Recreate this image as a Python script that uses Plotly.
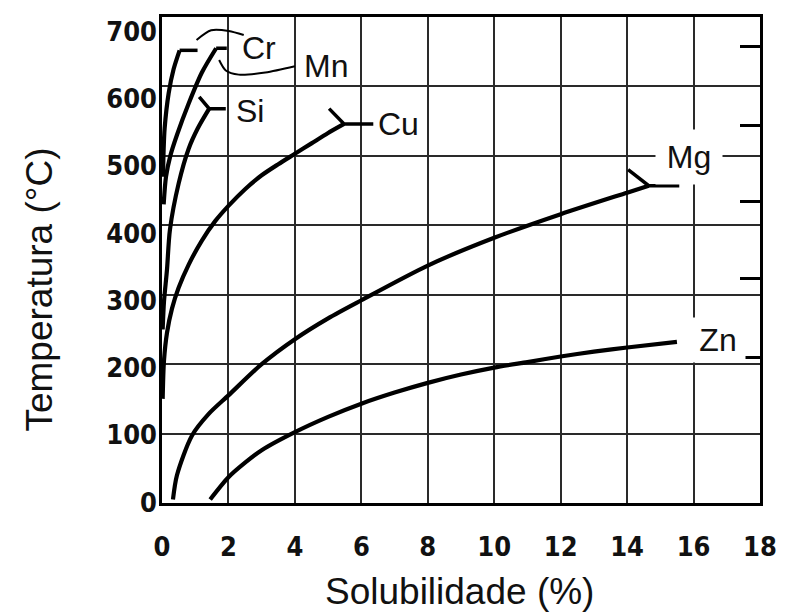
import plotly.graph_objects as go

# Solvus curves of alloying elements in aluminium: solubility (wt %) vs temperature (°C)
cr_x = [0.03, 0.05, 0.08, 0.2, 0.35, 0.53]
cr_t = [470, 510, 540, 590, 625, 652]
mn_x = [0.05, 0.12, 0.25, 0.45, 0.8, 1.2, 1.63]
mn_t = [430, 470, 500, 530, 575, 620, 655]
si_x = [0.02, 0.06, 0.15, 0.24, 0.5, 0.8, 1.07, 1.42]
si_t = [250, 290, 336, 394, 460, 510, 539, 568]
cu_x = [0.02, 0.06, 0.15, 0.3, 0.5, 0.8, 1.2, 1.6, 2.0, 2.5, 3.0, 3.5, 4.0, 4.5, 5.0, 5.48]
cu_t = [150, 205, 245, 280, 310, 343, 378, 406, 428, 452, 472, 488, 503, 518, 533, 546]
mg_x = [0.33, 0.45, 0.9, 1.4, 2.0, 3.0, 4.0, 5.0, 6.0, 8.0, 10.0, 12.0, 14.0, 14.65]
mg_t = [5, 40, 97, 128, 155, 200, 236, 266, 292, 342, 382, 416, 447, 457]
zn_x = [1.45, 2.0, 2.5, 3.0, 4.0, 5.0, 6.0, 7.0, 8.0, 9.0, 10.0, 11.0, 12.0, 13.0, 14.0, 15.5]
zn_t = [5, 37, 58, 76, 102, 124, 143, 159, 173, 185, 195, 203, 211, 218, 224, 232]

# Maximum-solubility end points: forked arm and horizontal leader towards the label
cr_stub_x, cr_stub_t = [0.53, 1.07], [652, 652]
mn_stub_x, mn_stub_t = [1.63, 1.95], [655, 655]
si_arm_x, si_arm_t = [1.12, 1.42, 1.92], [585, 568, 568]
cu_arm_x, cu_arm_t = [5.03, 5.48, 6.36], [568, 546, 546]
mg_arm_x, mg_arm_t = [14.03, 14.65, 15.57], [480, 457, 457]

# Curved leader lines for the Cr and Mn labels
cr_lead_x, cr_lead_t = [1.04, 1.48, 2.01, 2.46], [667, 681, 680, 674]
mn_lead_x, mn_lead_t = [1.72, 1.92, 2.31, 3.11, 4.0], [638, 623, 617, 620, 629]

# Element labels
lbl_text = ["Cr", "Mn", "Si", "Cu", "Mg", "Zn"]
lbl_x = [2.92, 4.95, 2.66, 7.12, 15.85, 16.75]
lbl_t = [655, 629, 564, 546, 499, 235]

# Axis ticks
x_ticks = [0, 2, 4, 6, 8, 10, 12, 14, 16, 18]
t_ticks = [0, 100, 200, 300, 400, 500, 600, 700]
# secondary (Fahrenheit) tick marks on the right frame, in °C
f_ticks_c = [657, 544, 434, 324, 210]

TICK_FONT = dict(family="DejaVu Sans Condensed, Liberation Sans, sans-serif",
                 size=27, color="#111", weight="bold")
LBL_FONT = dict(family="Liberation Sans, Arial, sans-serif", size=32, color="#111")
TITLE_FONT = dict(family="Liberation Sans, Arial, sans-serif", size=37, color="#111")

fig = go.Figure()


def curve(x, y, width=4.2, smooth=True):
    fig.add_trace(go.Scatter(
        x=x, y=y, mode="lines",
        line=dict(color="black", width=width,
                  shape="spline" if smooth else "linear", smoothing=0.8),
        hoverinfo="skip", showlegend=False))


for cx, ct in [(cr_x, cr_t), (mn_x, mn_t), (si_x, si_t),
               (cu_x, cu_t), (mg_x, mg_t), (zn_x, zn_t)]:
    curve(cx, ct)

for sx, st in [(cr_stub_x, cr_stub_t), (mn_stub_x, mn_stub_t), (si_arm_x, si_arm_t),
               (cu_arm_x, cu_arm_t), (mg_arm_x, mg_arm_t)]:
    curve(sx, st, width=3.5, smooth=False)

curve(cr_lead_x, cr_lead_t, width=2)
curve(mn_lead_x, mn_lead_t, width=2)

for txt, lx, lt in zip(lbl_text, lbl_x, lbl_t):
    box = dict(Mg=(64, 52), Zn=(52, 42)).get(txt)
    ann = dict(x=lx, y=lt, xref="x", yref="y", text=txt, showarrow=False,
               font=LBL_FONT)
    if box:
        ann.update(bgcolor="white", width=box[0], height=box[1])
    fig.add_annotation(**ann)

# Axis titles
fig.add_annotation(text="Solubilidade (%)", xref="paper", yref="paper",
                   x=0.497, y=-0.228, showarrow=False, font=TITLE_FONT,
                   xanchor="center", yanchor="bottom")
fig.add_annotation(text="Temperatura (°C)", xref="paper", yref="paper",
                   x=-0.205, y=0.44, showarrow=False, font=TITLE_FONT,
                   textangle=-90, xanchor="center", yanchor="middle")

grid = dict(showgrid=True, gridcolor="#2a2a2a", gridwidth=2,
            showline=True, linecolor="black", linewidth=3, mirror=True,
            zeroline=False)

fig.update_layout(
    width=789, height=615,
    margin=dict(l=162, r=19, t=17, b=112),
    plot_bgcolor="white", paper_bgcolor="white",
    showlegend=False,
    xaxis=dict(range=[0, 18], tickvals=x_ticks, tickfont=TICK_FONT,
               ticks="", ticklabelstandoff=18, **grid),
    yaxis=dict(range=[0, 700], tickvals=t_ticks, showticklabels=False,
               ticks="", **grid),
    # tick labels for temperature
    yaxis2=dict(overlaying="y", side="left", anchor="x", range=[-1, 721],
                tickvals=t_ticks, tickfont=TICK_FONT, showgrid=False,
                zeroline=False, showline=False, ticks="", ticklabelstandoff=4),
    # short inward ticks on the right-hand frame
    yaxis3=dict(overlaying="y", side="right", anchor="x", range=[0, 700],
                tickvals=f_ticks_c, ticks="inside", ticklen=20, tickwidth=3,
                tickcolor="black", showticklabels=False, showgrid=False,
                zeroline=False, showline=False),
)

# empty traces so the extra axes are drawn
fig.add_trace(go.Scatter(x=[None], y=[None], yaxis="y2", showlegend=False))
fig.add_trace(go.Scatter(x=[None], y=[None], yaxis="y3", showlegend=False))

fig.write_html("out.html")
